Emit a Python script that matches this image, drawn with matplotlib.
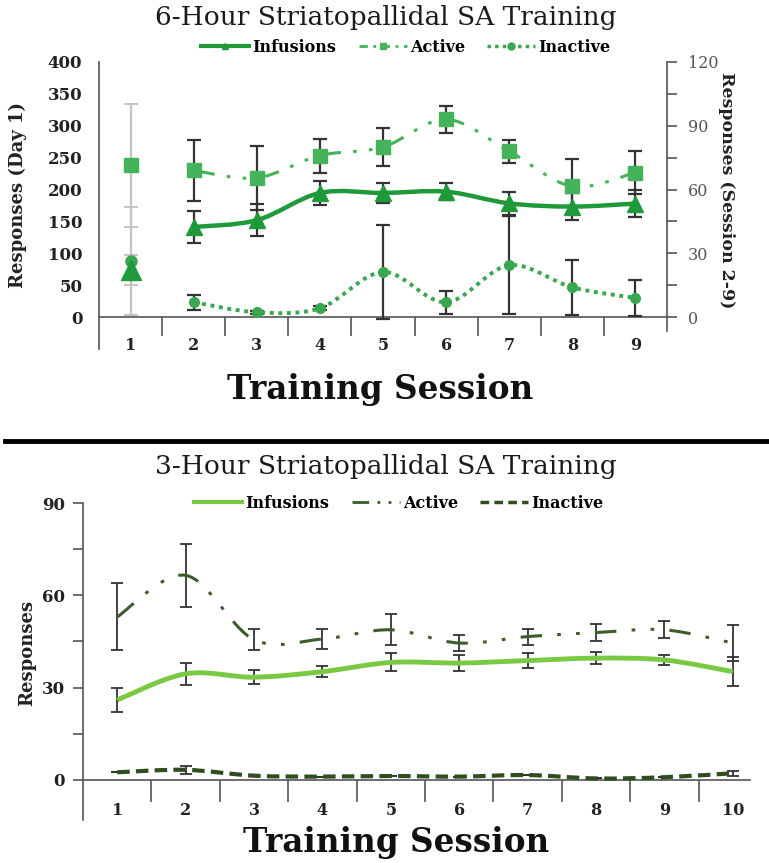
import numpy as np
import matplotlib
matplotlib.use("Agg")
import matplotlib.pyplot as plt
from matplotlib.path import Path
from matplotlib.patches import PathPatch
from matplotlib.lines import Line2D

# ---------------- data: 6-hour (top) ----------------
day1_session = [1]
day1_active = [238]
day1_active_err = [96]
day1_infusions = [74]
day1_infusions_err = [24]
day1_inactive = [88]
day1_inactive_err = [85]

sessions_6h = [2, 3, 4, 5, 6, 7, 8, 9]
active_6h = [69, 65.5, 76, 80, 93, 78, 61.5, 68]
active_6h_err = [14.4, 15, 8, 9, 6.5, 5.5, 13, 10]
infusions_6h = [42.4, 45.6, 58.4, 58.4, 59, 53.5, 52, 53.4]
infusions_6h_err = [7.5, 7.5, 5.5, 4.5, 4, 5.5, 6.5, 6.5]
inactive_6h = [7, 2.3, 4.2, 21.2, 7, 24.4, 14, 9]
inactive_6h_err = [3.5, 0.8, 0.8, 22, 5.5, 23, 13, 8.5]

# ---------------- data: 3-hour (bottom) ----------------
sessions_3h = [1, 2, 3, 4, 5, 6, 7, 8, 9, 10]
infusions_3h = [26, 34.5, 33.4, 35.2, 38.2, 38, 38.8, 39.6, 39, 35.2]
infusions_3h_err = [3.9, 3.5, 2.2, 1.8, 2.9, 2.5, 2.3, 1.9, 1.6, 4.7]
active_3h = [53, 66.5, 45.6, 45.8, 48.8, 44.5, 46.6, 47.9, 48.8, 44.5]
active_3h_err = [10.9, 10.3, 3.5, 3.3, 5, 2.7, 2.6, 2.8, 2.7, 5.9]
inactive_3h = [2.5, 3.3, 1.4, 1.1, 1.3, 1.1, 1.6, 0.5, 0.9, 2.2]
inactive_3h_err = [0, 1.3, 0, 0, 0, 0, 0, 0, 0, 0.8]

W, H = 769, 863
SERIF = "DejaVu Serif"
plt.rcParams['font.family'] = [SERIF]

fig = plt.figure(figsize=(W / 100, H / 100), dpi=100)


def smooth(ax, x, y, **kw):
    x = np.asarray(x, float)
    y = np.asarray(y, float)
    n = len(x)
    verts = [(x[0], y[0])]
    codes = [Path.MOVETO]
    for i in range(n - 1):
        i0 = max(i - 1, 0)
        i3 = min(i + 2, n - 1)
        c1 = (x[i] + (x[i + 1] - x[i0]) / 6, y[i] + (y[i + 1] - y[i0]) / 6)
        c2 = (x[i + 1] - (x[i3] - x[i]) / 6, y[i + 1] - (y[i3] - y[i]) / 6)
        verts += [c1, c2, (x[i + 1], y[i + 1])]
        codes += [Path.CURVE4] * 3
    p = PathPatch(Path(verts, codes), fill=False, transform=ax.transData, **kw)
    ax.add_patch(p)
    return p


def fx(px):
    return px / W


def fy(py):
    return 1 - py / H


# ================= TOP =================
G_INF = "#1f9a3a"
G_ACT = "#45b35a"
G_INA = "#39a650"
ERR = "#333333"

ax = fig.add_axes([fx(99), fy(349), fx(667) - fx(99), fy(62) - fy(349)])
ax.set_xlim(0.5, 9.5)
ax.set_ylim(-50, 400)
ax2 = ax.twinx()
ax2.set_ylim(-15, 120)

ax.spines['top'].set_visible(False)
ax2.spines['top'].set_visible(False)
ax.spines['right'].set_visible(False)
ax2.spines['left'].set_visible(False)
ax2.spines['bottom'].set_visible(False)
ax.spines['bottom'].set_position(('data', 0))
for sp in [ax.spines['left'], ax.spines['bottom'], ax2.spines['right']]:
    sp.set_color("#555555")
    sp.set_linewidth(1.2)
ax2.spines['right'].set_bounds(-6.6, 120)

ax.set_xticks(range(1, 10))
ax.set_xticks(np.arange(1.5, 9.0, 1.0), minor=True)
ax.tick_params(axis='x', which='major', length=0, pad=14, labelsize=11.5, colors="#222222")
ax.tick_params(axis='x', which='minor', length=14, width=1.2, direction='out', color="#555555")
for t in ax.get_xticklabels():
    t.set_fontweight('bold')
ax.set_yticks(range(0, 401, 50))
ax.tick_params(axis='y', which='major', length=0, pad=12, labelsize=12, colors="#222222")
for t in ax.get_yticklabels():
    t.set_fontweight('bold')
ax2.set_yticks([0, 30, 60, 90, 120])
ax2.set_yticks([15, 45, 75, 105], minor=True)
ax2.tick_params(axis='y', which='both', length=7, width=1.2, color="#555555", direction='out',
                labelsize=11.5, labelcolor="#555555", pad=8)

# day 1 (left axis)
for vals, errs in [(day1_active, day1_active_err), (day1_inactive, day1_inactive_err),
                   (day1_infusions, day1_infusions_err)]:
    ax.errorbar(day1_session, vals, yerr=errs, fmt='none', ecolor="#c4c4c4",
                elinewidth=1.6, capsize=5, capthick=1.4, zorder=2)
ax.plot(day1_session, day1_active, 's', color=G_ACT, ms=10, zorder=4)
ax.plot(day1_session, day1_inactive, 'o', color=G_INA, ms=8, zorder=4)
ax.plot(day1_session, day1_infusions, '^', color=G_INF, ms=14, zorder=5)

# sessions 2-9 (right axis)
for vals, errs in [(active_6h, active_6h_err), (infusions_6h, infusions_6h_err),
                   (inactive_6h, inactive_6h_err)]:
    ax2.errorbar(sessions_6h, vals, yerr=errs, fmt='none', ecolor=ERR,
                 elinewidth=1.6, capsize=5, capthick=1.6, zorder=2)
smooth(ax2, sessions_6h, active_6h, edgecolor=G_ACT, linewidth=2.2,
       linestyle=(0, (7, 4, 1.2, 4, 1.2, 4)), zorder=3)
smooth(ax2, sessions_6h, infusions_6h, edgecolor=G_INF, linewidth=3.2, zorder=3)
smooth(ax2, sessions_6h, inactive_6h, edgecolor=G_INA, linewidth=2.8,
       linestyle=(0, (1, 1.2)), zorder=3)
ax2.plot(sessions_6h, active_6h, 's', color=G_ACT, ms=10, zorder=4)
ax2.plot(sessions_6h, infusions_6h, '^', color=G_INF, ms=12, zorder=4)
ax2.plot(sessions_6h, inactive_6h, 'o', color=G_INA, ms=7, zorder=4)

fig.text(fx(18), fy(195), "Responses (Day 1)", rotation=90, ha='center', va='center',
         fontsize=13, fontweight='bold', color="#222222")
fig.text(fx(726), fy(190), "Responses (Session 2-9)", rotation=-90, ha='center', va='center',
         fontsize=12.5, fontweight='bold', color="#222222")
fig.text(fx(386), fy(18), "6-Hour Striatopallidal SA Training", ha='center', va='center',
         fontsize=19, color="#1a1a1a")
fig.text(fx(380), fy(389), "Training Session", ha='center', va='center',
         fontsize=23.5, fontweight='bold', color="#111111")

h_top = [
    Line2D([], [], color=G_INF, lw=3, marker='^', ms=5),
    Line2D([], [], color=G_ACT, lw=2, marker='s', ms=5, linestyle=(0, (3, 2, 1, 2))),
    Line2D([], [], color=G_INA, lw=2.5, marker='o', ms=5, linestyle=(0, (1, 1.2))),
]
fig.legend(h_top, ["Infusions", "Active", "Inactive"], loc='center', ncol=3, frameon=False,
           bbox_to_anchor=(fx(406), fy(47)), prop={'family': SERIF, 'weight': 'bold', 'size': 11.5},
           handlelength=3, handletextpad=0.2, columnspacing=1.4)

# separator
fig.add_artist(Line2D([fx(5), 1.0], [fy(441), fy(441)], color='black', lw=3.5))

# ================= BOTTOM =================
B_INF = "#7bc943"
B_ACT = "#3d5c2c"
B_INA = "#2f4d1f"

bx = fig.add_axes([fx(83), fy(820), fx(750) - fx(83), fy(503) - fy(820)])
bx.set_xlim(0.5, 10.25)
bx.set_ylim(-13, 90)
bx.spines['top'].set_visible(False)
bx.spines['right'].set_visible(False)
bx.spines['bottom'].set_position(('data', 0))
for sp in [bx.spines['left'], bx.spines['bottom']]:
    sp.set_color("#555555")
    sp.set_linewidth(1.2)
bx.set_xticks(sessions_3h)
bx.set_xticks(np.arange(1.5, 10.0, 1.0), minor=True)
bx.tick_params(axis='x', which='major', length=0, pad=16, labelsize=11.5, colors="#222222")
bx.tick_params(axis='x', which='minor', length=16, width=1.2, direction='out', color="#555555")
for t in bx.get_xticklabels():
    t.set_fontweight('bold')
bx.set_yticks([0, 30, 60, 90])
bx.set_yticks([15, 45, 75], minor=True)
bx.tick_params(axis='y', which='both', length=7, width=1.2, direction='out',
               labelsize=12, labelcolor="#222222", color="#555555", pad=6)
for t in bx.get_yticklabels():
    t.set_fontweight('bold')

for vals, errs in [(active_3h, active_3h_err), (infusions_3h, infusions_3h_err),
                   (inactive_3h, inactive_3h_err)]:
    bx.errorbar(sessions_3h, vals, yerr=errs, fmt='none', ecolor=ERR,
                elinewidth=1.3, capsize=4, capthick=1.3, zorder=2)
smooth(bx, sessions_3h, infusions_3h, edgecolor=B_INF, linewidth=3.5, zorder=3)
smooth(bx, sessions_3h, active_3h, edgecolor=B_ACT, linewidth=2.2,
       linestyle=(0, (7, 5, 1.2, 5, 1.2, 5)), zorder=3)
smooth(bx, sessions_3h, inactive_3h, edgecolor=B_INA, linewidth=3,
       linestyle=(0, (3, 1.5)), zorder=3)

fig.text(fx(27), fy(653), "Responses", rotation=90, ha='center', va='center',
         fontsize=13, fontweight='bold', color="#222222")
fig.text(fx(386), fy(466), "3-Hour Striatopallidal SA Training", ha='center', va='center',
         fontsize=19, color="#1a1a1a")
fig.text(fx(396), fy(842), "Training Session", ha='center', va='center',
         fontsize=23.5, fontweight='bold', color="#111111")

h_bot = [
    Line2D([], [], color=B_INF, lw=3),
    Line2D([], [], color=B_ACT, lw=2, linestyle=(0, (6, 3, 1, 3, 1, 3))),
    Line2D([], [], color=B_INA, lw=2.5, linestyle=(0, (2.5, 1.5))),
]
fig.legend(h_bot, ["Infusions", "Active", "Inactive"], loc='center', ncol=3, frameon=False,
           bbox_to_anchor=(fx(399), fy(503)), prop={'family': SERIF, 'weight': 'bold', 'size': 11.5},
           handlelength=3, handletextpad=0.2, columnspacing=1.4)

fig.savefig("out.png", dpi=100)
